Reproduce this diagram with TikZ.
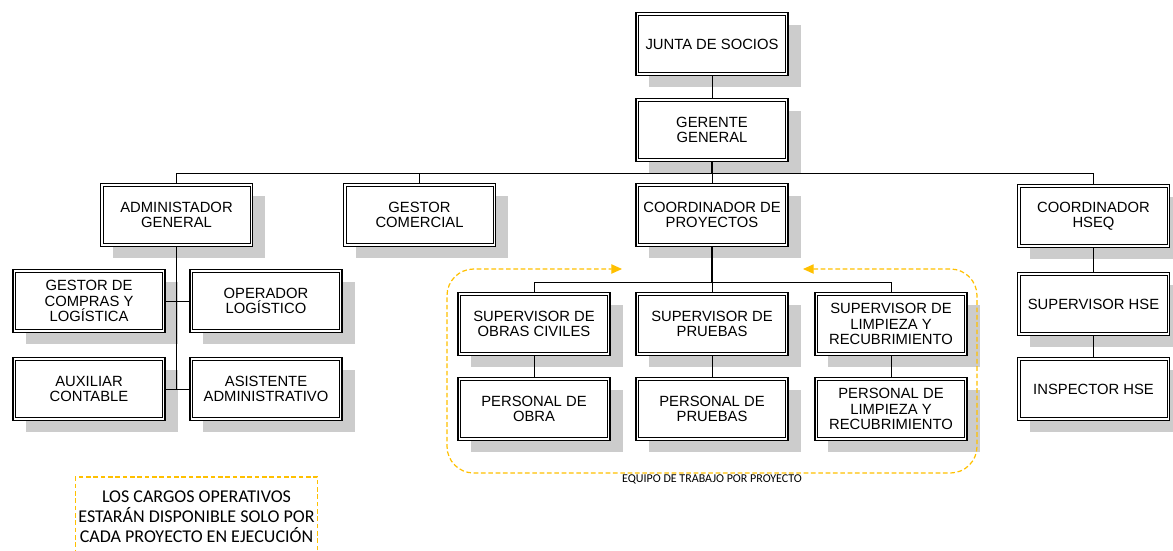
\documentclass[tikz,border=0pt]{standalone}
\usepackage{fontspec}
\setmainfont{Liberation Sans}
\newfontfamily\notefont{Carlito}
\usetikzlibrary{shadows,arrows.meta}
\definecolor{shadowgray}{HTML}{CCCCCC}
\definecolor{teamgold}{HTML}{FFC000}

\begin{document}
\begin{tikzpicture}
[x=0.75pt, y=-0.75pt,
 every node/.style={inner sep=0pt},
 post/.style={rectangle, minimum width=114pt, minimum height=47pt, align=center, draw=black, line width=1.2pt, fill=white,
   font=\fontsize{11.1}{11.6}\selectfont,
   drop shadow={shadow xshift=9.5pt, shadow yshift=-9pt, fill=shadowgray, opacity=1},
   path picture={\draw[line width=0.6pt] ([shift={(1.9pt,1.9pt)}]path picture bounding box.south west) rectangle ([shift={(-1.9pt,-1.9pt)}]path picture bounding box.north east);}},
 link/.style={line width=0.7pt, color=black},
 trunk/.style={line width=1.4pt, color=black},
 team/.style={draw=teamgold, line width=0.9pt, dash pattern=on 3.5pt off 2pt},
 notebox/.style={team, minimum width=182pt, minimum height=60pt, align=center, font=\notefont\fontsize{13.5}{15}\selectfont}]
\useasboundingbox (0,0) rectangle (1173,550);

\node (js) [post] at (712,44) {JUNTA DE SOCIOS};
\node (gg) [post] at (712,130) {GERENTE\\GENERAL};
\node (adm) [post] at (176.5,215) {ADMINISTADOR\\GENERAL};
\node (com) [post] at (419.5,215) {GESTOR\\COMERCIAL};
\node (cp) [post] at (712,215) {COORDINADOR DE\\PROYECTOS};
\node (hseq) [post] at (1093.5,216) {COORDINADOR\\HSEQ};
\node (gcl) [post] at (89,301) {GESTOR DE\\COMPRAS Y\\LOGÍSTICA};
\node (opl) [post] at (266,301) {OPERADOR\\LOGÍSTICO};
\node (aux) [post] at (89,389) {AUXILIAR\\CONTABLE};
\node (asi) [post] at (266,389) {ASISTENTE\\ADMINISTRATIVO};
\node (sob) [post] at (534,324) {SUPERVISOR DE\\OBRAS CIVILES};
\node (spr) [post] at (712,324) {SUPERVISOR DE\\PRUEBAS};
\node (sli) [post] at (891,324) {SUPERVISOR DE\\LIMPIEZA Y\\RECUBRIMIENTO};
\node (pob) [post] at (534,409) {PERSONAL DE\\OBRA};
\node (ppr) [post] at (712,409) {PERSONAL DE\\PRUEBAS};
\node (pli) [post] at (891,409) {PERSONAL DE\\LIMPIEZA Y\\RECUBRIMIENTO};
\node (shse) [post] at (1093.5,304) {SUPERVISOR HSE};
\node (ihse) [post] at (1093.5,389) {INSPECTOR HSE};

\node (note) [notebox] at (196.5,517) {LOS CARGOS OPERATIVOS\\ESTARÁN DISPONIBLE SOLO POR\\CADA PROYECTO EN EJECUCIÓN};
\node (teamlbl) [font=\notefont\fontsize{9}{10}\selectfont] at (712,479) {EQUIPO DE TRABAJO POR PROYECTO};

% top levels
\draw [link] (js.south) -- (gg.north);
\draw [trunk] (gg.south) -- ++(0,11.5) coordinate (bus);
\draw [link] (adm.north) |- (bus) -| (hseq.north);
\draw [link] (com.north) -- (com.north |- bus);
\draw [link] (cp.north) -- (bus);

% administration
\draw [link] (adm.south) |- (asi.west);
\draw [link] (gcl.east) -- (opl.west);
\draw [link] (aux.east) -- (aux.east -| adm.south);

% project team
\draw [trunk] (cp.south) -- ++(0,35) coordinate (subbus);
\draw [link] (sob.north) |- (subbus) -| (sli.north);
\draw [link] (subbus) -- (spr.north);
\draw [link] (sob.south) -- (pob.north);
\draw [link] (spr.south) -- (ppr.north);
\draw [link] (sli.south) -- (pli.north);
\draw [team, {Triangle[length=8pt,width=7pt,fill=teamgold]}-{Triangle[length=8pt,width=7pt,fill=teamgold]}, rounded corners=20pt]
  (803,269) -- (977,269) -- (977,473) -- (447,473) -- (447,269) -- (622,269);

% hseq
\draw [link] (hseq.south) -- (shse.north);
\draw [link] (shse.south) -- (ihse.north);

\end{tikzpicture}
\end{document}
